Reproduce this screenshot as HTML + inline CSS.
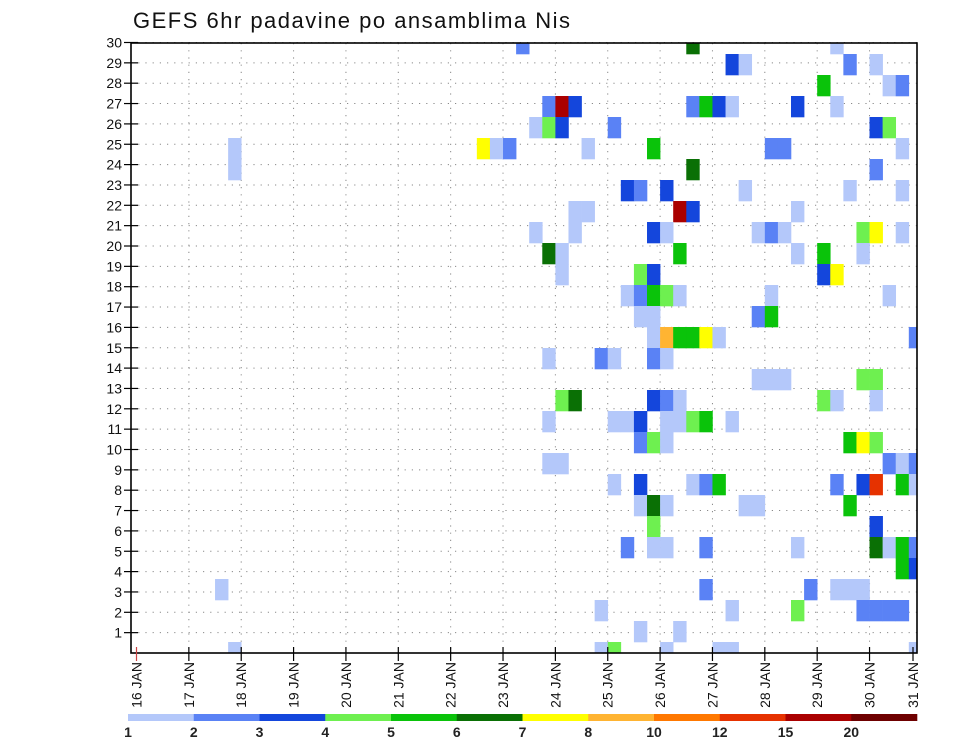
<!DOCTYPE html>
<html><head><meta charset="utf-8"><style>
html,body{margin:0;padding:0;background:#fff;}
svg{display:block;font-family:"Liberation Sans",sans-serif;}
</style></head><body>
<svg id="chart" width="960" height="742" viewBox="0 0 960 742" xmlns="http://www.w3.org/2000/svg">
<text x="133" y="28" font-size="22" textLength="437" lengthAdjust="spacing" fill="#111">GEFS 6hr padavine po ansamblima Nis</text>
<defs><clipPath id="plotclip"><rect x="131" y="43" width="786" height="610"/></clipPath></defs>
<g id="grid"></g>
<g id="cells" clip-path="url(#plotclip)"></g>
<rect x="131" y="43" width="786" height="610" fill="none" stroke="#000" stroke-width="1.6"/>
<g id="yaxis"></g>
<g id="xaxis"></g>
<g id="colorbar"></g>
</svg>
<script>
// ---- data ----
const dayLabels = ["16 JAN","17 JAN","18 JAN","19 JAN","20 JAN","21 JAN","22 JAN","23 JAN","24 JAN","25 JAN","26 JAN","27 JAN","28 JAN","29 JAN","30 JAN","31 JAN"];
const memberTicks = [1,2,3,4,5,6,7,8,9,10,11,12,13,14,15,16,17,18,19,20,21,22,23,24,25,26,27,28,29,30];
const levelLabels = ["1","2","3","4","5","6","7","8","10","12","15","20"];
const levelColors = ["#b4c8fa","#5a82f5","#1446dc","#6ef050","#0ac30a","#0a7005","#ffff00","#ffb432","#ff7800","#e63200","#aa0000","#6e0000"];
// cells: 6h slot index from 16 JAN 00Z, ensemble member, level class
const cellSlots = [29,42,53, 45,46,54,56, 52,57,58, 31,32,33,42,43,44,45,50,53, 30,31,32,36,56,57, 7,26,27,28,34,39,48,49,58, 7,42,56, 37,38,40,46,54,58, 33,34,41,42,50, 30,33,39,40,47,48,49,55,56,58, 31,32,41,50,52,55, 32,38,39,52,53, 37,38,39,40,41,48,57, 38,39,47,48, 39,40,41,42,43,44,59, 31,35,36,39,40, 47,48,49,55,56, 32,33,39,40,41,52,53,56, 31,36,37,38,40,41,42,43,45, 38,39,40,54,55,56, 31,32,57,58,59, 36,38,42,43,44,53,55,56,58,59, 38,39,40,46,47,54, 39,56, 37,39,40,43,50,56,57,58,59, 58,59, 6,43,51,53,54,55, 35,45,50,55,56,57,58, 38,41, 7,35,36,40,44,45,59];
const cellMembers = [30,30,30, 29,29,29,29, 28,28,28, 27,27,27,27,27,27,27,27,27, 26,26,26,26,26,26, 25,25,25,25,25,25,25,25,25, 24,24,24, 23,23,23,23,23,23, 22,22,22,22,22, 21,21,21,21,21,21,21,21,21,21, 20,20,20,20,20,20, 19,19,19,19,19, 18,18,18,18,18,18,18, 17,17,17,17, 16,16,16,16,16,16,16, 15,15,15,15,15, 14,14,14,14,14, 13,13,13,13,13,13,13,13, 12,12,12,12,12,12,12,12,12, 11,11,11,11,11,11, 10,10,10,10,10, 9,9,9,9,9,9,9,9,9,9, 8,8,8,8,8,8, 7,7, 6,6,6,6,6,6,6,6,6, 5,5, 4,4,4,4,4,4, 3,3,3,3,3,3,3, 2,2, 1,1,1,1,1,1,1];
const cellLevels = [1,5,0, 2,0,1,0, 4,0,1, 1,10,2,1,4,2,0,2,0, 0,3,2,1,2,3, 0,6,0,1,0,4,1,1,0, 0,5,1, 2,1,2,0,0,0, 0,0,10,2,0, 0,0,2,0,0,1,0,3,6,0, 5,0,4,0,4,0, 0,3,2,2,6, 0,1,4,3,0,0,0, 0,0,1,4, 0,7,4,4,6,0,1, 0,1,0,1,0, 0,0,0,3,3, 3,5,2,1,0,3,0,0, 0,0,0,2,0,0,3,4,0, 1,3,0,4,6,3, 0,0,1,0,1, 0,2,0,1,4,1,2,9,4,0, 0,5,0,0,0,4, 3,2, 1,0,0,1,0,5,0,4,1, 4,2, 0,1,1,0,0,0, 0,0,3,1,1,1,1, 0,0, 0,0,3,0,0,0,0];

// ---- scales ----
const NS="http://www.w3.org/2000/svg";
const PL=131, PR=917, PT=43, PB=653;
const X0=136.5, DAYW=52.36, SLOTW=DAYW/4;
function xDay(d){ return X0 + d*DAYW; }
function xSlot(s){ return X0 + s*SLOTW; }
function yLabel(r){ return PB - r*20.35; }
const CELLH=21, CELLBOT=663;
function yCellTop(m){ return CELLBOT - m*CELLH; }
function mk(tag, attrs, parent){ const e=document.createElementNS(NS,tag); for(const k in attrs) e.setAttribute(k, attrs[k]); parent.appendChild(e); return e; }

const grid=document.getElementById('grid');
const cells=document.getElementById('cells');
const yaxis=document.getElementById('yaxis');
const xaxis=document.getElementById('xaxis');
const cbar=document.getElementById('colorbar');

// grid lines
memberTicks.forEach(r=>{
  const y=yLabel(r);
  const l=mk('line',{x1:PL,x2:PR,y1:y,y2:y,stroke:'#8a8a8a','stroke-width':1,'stroke-dasharray':'1.2,6'},grid);
  
  
});
dayLabels.forEach((d,i)=>{
  if(i===0||i===dayLabels.length-1) return;
  const x=xDay(i);
  const l=mk('line',{x1:x,x2:x,y1:PT,y2:PB,stroke:'#8a8a8a','stroke-width':1,'stroke-dasharray':'1.2,6'},grid);
  
  
});

// cells
for(let i=0;i<cellSlots.length;i++){
  const x=xSlot(cellSlots[i]), y=yCellTop(cellMembers[i]);
  const r=mk('rect',{x:x, y:y, width:SLOTW+0.3, height:CELLH+0.3, fill:levelColors[cellLevels[i]]},cells);
  
  
}

// y axis
memberTicks.forEach(r=>{
  const y=yLabel(r);
  const t=mk('line',{x1:124,x2:138,y1:y,y2:y,stroke:'#000','stroke-width':1.2},yaxis);
  
  
  const tx=mk('text',{x:122,y:y+5,'text-anchor':'end','font-size':14,fill:'#111'},yaxis);
  tx.textContent=r;
  
  
});

// x axis
dayLabels.forEach((d,i)=>{
  const x = (i===dayLabels.length-1) ? 913 : xDay(i);
  const t=mk('line',{x1:x,x2:x,y1:PB-6,y2:PB+8,stroke:(i===0?'#c44':'#000'),'stroke-width':1.2},xaxis);
  
  
  const tx=mk('text',{x:0,y:0,'text-anchor':'end','font-size':14,fill:'#111',transform:'translate('+(x+5)+',662) rotate(-90)'},xaxis);
  tx.textContent=d;
  
  
});

// colorbar
const CBL=128, CBR=917, segW=(CBR-CBL)/levelColors.length;
levelColors.forEach((c,i)=>{
  const r=mk('rect',{x:CBL+i*segW,y:714,width:segW+0.3,height:7,fill:c},cbar);
  
  
});
levelLabels.forEach((lab,i)=>{
  const tx=mk('text',{x:CBL+i*segW,y:737,'text-anchor':'middle','font-size':14,'font-weight':'bold',fill:'#222'},cbar);
  tx.textContent=lab;
  
  
});
</script>
</body></html>
